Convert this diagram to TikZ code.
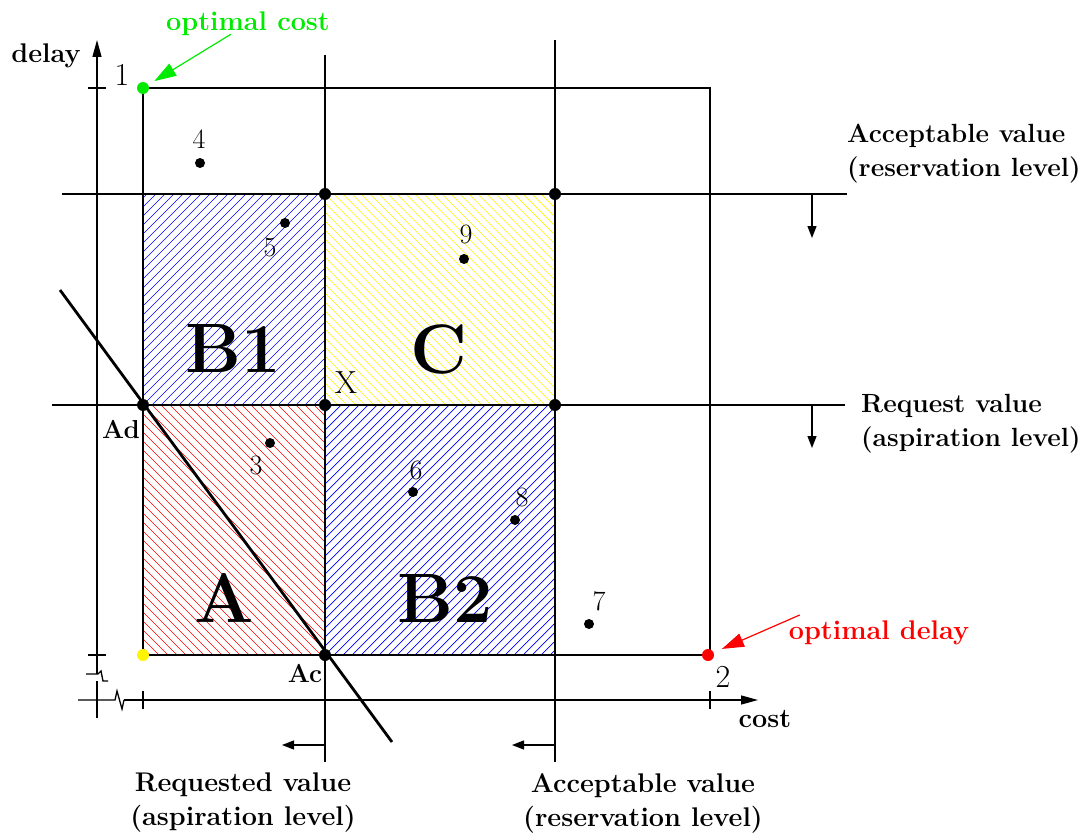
\documentclass[tikz,border=0pt]{standalone}
\usepackage{tikz}
\usetikzlibrary{arrows.meta,positioning,calc}
\definecolor{optgreen}{RGB}{0,235,0}
\definecolor{optred}{RGB}{255,0,0}
\definecolor{optyellow}{RGB}{255,245,0}
\tikzset{
  axisline/.style ={line width=1.3pt},
  gridline/.style ={line width=2.8pt},
  thinline/.style ={line width=1.3pt},
  hatchline/.style={draw=#1, line width=0.7pt},
  dotpt/.style    ={circle, fill=black, inner sep=0pt, minimum size=10pt},
  crosspt/.style  ={circle, fill=black, inner sep=0pt, minimum size=12pt},
  colpt/.style    ={circle, fill=#1, inner sep=0pt, minimum size=12pt},
  numlbl/.style   ={font=\fontsize{28}{32}\selectfont, inner sep=0pt},
  biglbl/.style   ={font=\fontsize{32}{36}\selectfont, inner sep=0pt},
  smalllbl/.style ={font=\bfseries\fontsize{26}{30}\selectfont, inner sep=0pt},
  note/.style     ={font=\bfseries\fontsize{27}{34}\selectfont, align=left, inner sep=0pt},
  sidenote/.style ={note, font=\bfseries\fontsize{26.3}{34}\selectfont, anchor=west},
  regionlbl/.style={font=\bfseries\fontsize{70}{70}\selectfont, inner sep=0pt},
  axarr/.style    ={-{Triangle[length=17pt,width=9pt]}, axisline},
  movearr/.style  ={-{Triangle[length=12pt,width=9pt]}, line width=1.3pt},
  optarr/.style   ={-{Triangle[length=22pt,width=14pt]}, line width=1.2pt},
}

\begin{document}
\begin{tikzpicture}[x=1pt,y=-1pt]
  \useasboundingbox[fill=white] (0,0) rectangle (1085,840);
  % grid corners
  \coordinate (o)  at (143,655);
  \coordinate (ul) at (143,194);
  \coordinate (Ac) at (325,655);
  \coordinate (Ad) at (143,405);
  \coordinate (X)  at (325,405);
  \coordinate (Xr) at (555,405);
  \coordinate (Ut) at (325,194);
  \coordinate (Rt) at (555,194);
  \coordinate (Rb) at (555,655);

  % hatched regions
  \begin{scope}
    \clip (ul) rectangle (X);
    \foreach \s in {-261,-252,...,190}
      \draw[hatchline=blue] (143+\s,405) -- ++(264,-264);
  \end{scope}
  \begin{scope}
    \clip (Ut) rectangle (Xr);
    \foreach \s in {-261,-252,...,240}
      \draw[hatchline=optyellow] (325+\s,194) -- ++(264,264);
  \end{scope}
  \begin{scope}
    \clip (Ad) rectangle (Ac);
    \foreach \s in {-306,-297,...,190}
      \draw[hatchline=red] (143+\s,405) -- ++(306,306);
  \end{scope}
  \begin{scope}
    \clip (X) rectangle (Rb);
    \foreach \s in {-306,-297,...,240}
      \draw[hatchline=blue] (325+\s,655) -- ++(306,-306);
  \end{scope}

  % feasible box
  \draw[thinline] (143,88) rectangle (710,655);

  % axes
  \draw[axarr] (97,674) -- (97,40);
  \draw[axisline] (86,674) -- (98,674) -- (101,671) -- (103,681) -- (108,681);
  \draw[axisline] (97,681) -- (97,718);
  \draw[axisline] (78,700) -- (115,700) -- (117,691) -- (122,709) -- (124,700);
  \draw[axarr] (124,700) -- (758,700);
  \draw[axisline] (88,88) -- (106,88);
  \draw[axisline] (88,655) -- (106,655);
  \draw[axisline] (143,691) -- (143,709);
  \draw[axisline] (710,691) -- (710,709);

  % levels
  \draw[gridline] (325,55) -- (325,762);
  \draw[gridline] (555,40) -- (555,762);
  \draw[gridline] (62,194) -- (847,194);
  \draw[gridline] (52,405) -- (845,405);
  \draw[gridline] (60,290) -- (392,742);

  % level movement
  \coordinate (dn1) at (812,194);
  \coordinate (dn2) at (812,405);
  \coordinate (lf1) at (325,745);
  \coordinate (lf2) at (555,745);
  \draw[movearr] (dn1) -- ++(0,44);
  \draw[movearr] (dn2) -- ++(0,43);
  \draw[movearr] (lf1) -- ++(-43,0);
  \draw[movearr] (lf2) -- ++(-43,0);

  % intersections
  \foreach \c in {Ad,X,Xr,Ut,Rt,Ac}
    \node[crosspt] at (\c) {};

  % points
  \node[dotpt] (p3) at (270,443) {};
  \node[dotpt] (p4) at (200,163) {};
  \node[dotpt] (p5) at (285,223) {};
  \node[dotpt] (p6) at (413,492) {};
  \node[dotpt] (p7) at (589,624) {};
  \node[dotpt] (p8) at (515,520) {};
  \node[dotpt] (p9) at (464,259) {};
  \node[numlbl] at (256,465) {3};
  \node[numlbl] at (199,139) {4};
  \node[numlbl] at (270,247) {5};
  \node[numlbl] at (416,470) {6};
  \node[numlbl] at (599,601) {7};
  \node[numlbl] at (522,497) {8};
  \node[numlbl] at (466,234) {9};

  % optima
  \node[colpt=optgreen]  (p1) at (143,88) {};
  \node[colpt=optred]    (p2) at (708,655) {};
  \node[colpt=optyellow] (p0) at (o) {};
  \node[biglbl] at (122,75) {1};
  \node[biglbl] at (723,677) {2};
  \node[note, text=optgreen] (optcost)  at (248,24)  {optimal cost};
  \node[note, text=optred]   (optdelay) at (879,633) {optimal delay};
  \draw[optarr, optgreen, shorten >=7pt] ($(optcost.south)+(-17,-2)$) -- (p1);
  \draw[optarr, optred, shorten >=9pt] ($(optdelay.west)+(11,-18)$) -- (p2);

  % axis names
  \node[note] at (46,56)  {delay};
  \node[note] at (765,719) {cost};
  \node[smalllbl] at (121,429) {Ad};
  \node[smalllbl] at (305,673) {Ac};
  \node[biglbl] at (346,383) {X};

  % regions
  \node[regionlbl] at (233,348) {B1};
  \node[regionlbl] at (439,349) {C};
  \node[regionlbl] at (224,598) {A};
  \node[regionlbl] at (445,598) {B2};

  % level notes
  \node[sidenote] at (847,154) {Acceptable value\\(reservation level)};
  \node[sidenote] at (861,424) {Request value\\(aspiration level)};
  \node[note, align=center] at (243,803) {Requested value\\(aspiration level)};
  \node[note, align=center] at (643,803) {Acceptable value\\(reservation level)};
\end{tikzpicture}
\end{document}
